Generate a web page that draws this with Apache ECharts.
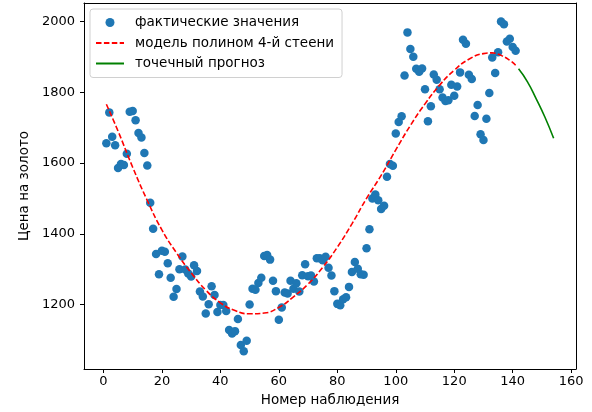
<!DOCTYPE html>
<html>
<head>
<meta charset="utf-8">
<script src="https://cdn.jsdelivr.net/npm/echarts@6/dist/echarts.min.js"></script>
<style>
    html, body { margin: 0; padding: 0; background: #fff; }
    #chart { width: 592px; height: 412px; }
</style>
</head>
<body>
<div id="chart"></div>
<script>
// фактические значения (номер наблюдения 1..141)
var actual = [
    1656, 1743, 1674, 1650, 1586, 1597, 1594, 1626, 1745, 1747, 1721, 1685,
    1672, 1628, 1593, 1488, 1414, 1343, 1286, 1352, 1349, 1317, 1276, 1222,
    1244, 1300, 1336, 1299, 1288, 1279, 1311, 1295, 1237, 1223, 1175, 1201,
    1252, 1227, 1179, 1199, 1199, 1182, 1128, 1118, 1125, 1159, 1086, 1068,
    1098, 1200, 1245, 1242, 1261, 1276, 1337, 1340, 1327, 1267, 1238, 1157,
    1192, 1234, 1231, 1267, 1245, 1260, 1237, 1283, 1314, 1280, 1282, 1265,
    1331, 1331, 1325, 1335, 1304, 1282, 1238, 1202, 1198, 1215, 1221, 1250,
    1292, 1320, 1301, 1286, 1284, 1359, 1413, 1500, 1511, 1495, 1470, 1479,
    1561, 1597, 1592, 1683, 1716, 1732, 1847, 1969, 1922, 1900, 1866, 1858,
    1867, 1808, 1718, 1760, 1850, 1835, 1808, 1785, 1775, 1777, 1821, 1790,
    1816, 1856, 1948, 1937, 1849, 1837, 1733, 1764, 1681, 1665, 1725, 1798,
    1898, 1854, 1913, 2000, 1992, 1943, 1951, 1928, 1917
];

// модель полином 4-й степени
var modelX = [1, 5, 10, 15, 20, 25, 30, 35, 40, 45, 50, 55, 60, 65, 70, 75, 80, 85, 90, 95, 100, 105, 110, 115, 120, 125, 130, 133, 136, 139, 141];
var modelY = [1766, 1690, 1588, 1494, 1411, 1346, 1290, 1241, 1205, 1183, 1174, 1176, 1192, 1222, 1258, 1305, 1362, 1428, 1500, 1565, 1637, 1706, 1767, 1820, 1862, 1893, 1909, 1911, 1904, 1890, 1876];

// точечный прогноз
var forecastX = [142, 145, 148, 151, 154];
var forecastY = [1866, 1830, 1782, 1730, 1670];

var xTicks = [0, 20, 40, 60, 80, 100, 120, 140, 160];
var yTicks = [1200, 1400, 1600, 1800, 2000];

var font = 'DejaVu Sans';
var xMin = -6.65, xMax = 161.65;
var yMin = 1018, yMax = 2052;

function pairs(xs, ys) {
    return xs.map(function (x, i) { return [x, ys[i]]; });
}

function plain(v) { return String(v); }

var chart = echarts.init(document.getElementById('chart'));

// рамка: оси сверху и справа без подписей
var frameX = {
    type: 'value', position: 'top', min: xMin, max: xMax,
    axisLine: { show: true, onZero: false, lineStyle: { color: '#000' } },
    axisTick: { show: false }, axisLabel: { show: false }, splitLine: { show: false }
};
var frameY = {
    type: 'value', position: 'right', min: yMin, max: yMax,
    axisLine: { show: true, onZero: false, lineStyle: { color: '#000' } },
    axisTick: { show: false }, axisLabel: { show: false }, splitLine: { show: false }
};

var option = {
    animation: false,
    grid: {
        left: 84,
        right: 16,
        top: 3,
        bottom: 43
    },
    legend: {
        orient: 'vertical',
        left: 90,
        top: 9,
        padding: [6.5, 8, 7, 5],
        itemWidth: 28,
        itemHeight: 9,
        itemGap: 6.5,
        borderColor: '#d0d0d0',
        borderWidth: 1,
        borderRadius: 3,
        backgroundColor: 'rgba(255,255,255,0.85)',
        formatter: function (name) { return '{t|' + name + '}'; },
        textStyle: {
            fontFamily: font, fontSize: 13.5, color: '#000',
            rich: { t: { fontFamily: font, fontSize: 13.5, color: '#000', padding: [0, 0, 0, 6] } }
        },
        data: [
            { name: 'фактические значения' },
            { name: 'модель полином 4-й стеени', itemStyle: { opacity: 0 } },
            { name: 'точечный прогноз', itemStyle: { opacity: 0 } }
        ]
    },
    xAxis: [{
        type: 'value',
        min: xMin,
        max: xMax,
        name: 'Номер наблюдения',
        nameLocation: 'middle',
        nameGap: 24,
        nameTextStyle: { fontFamily: font, fontSize: 13.5, color: '#000' },
        axisLine: { show: true, onZero: false, lineStyle: { color: '#000' } },
        axisTick: { show: true, length: 4, customValues: xTicks, lineStyle: { color: '#000' } },
        axisLabel: { customValues: xTicks, formatter: plain, margin: 6, fontFamily: font, fontSize: 13, color: '#000' },
        splitLine: { show: false }
    }, frameX],
    yAxis: [{
        type: 'value',
        min: yMin,
        max: yMax,
        name: 'Цена на золото',
        nameLocation: 'middle',
        nameGap: 41,
        nameTextStyle: { fontFamily: font, fontSize: 13.5, color: '#000' },
        axisLine: { show: true, onZero: false, lineStyle: { color: '#000' } },
        axisTick: { show: true, length: 4, customValues: yTicks, lineStyle: { color: '#000' } },
        axisLabel: { customValues: yTicks, formatter: plain, margin: 9, fontFamily: font, fontSize: 13, color: '#000' },
        splitLine: { show: false }
    }, frameY],
    series: [
        {
            name: 'фактические значения',
            type: 'scatter',
            symbol: 'circle',
            symbolSize: 8.5,
            itemStyle: { color: '#1f77b4', opacity: 1 },
            data: actual.map(function (v, i) { return [i + 1, v]; }),
            z: 2
        },
        {
            name: 'модель полином 4-й стеени',
            type: 'line',
            smooth: true,
            symbol: 'none',
            lineStyle: { color: '#ff0000', width: 1.6, type: [5.5, 2.4] },
            itemStyle: { color: '#ff0000' },
            data: pairs(modelX, modelY),
            z: 3
        },
        {
            name: 'точечный прогноз',
            type: 'line',
            smooth: true,
            symbol: 'none',
            lineStyle: { color: '#008000', width: 1.6 },
            itemStyle: { color: '#008000' },
            data: pairs(forecastX, forecastY),
            z: 3
        }
    ]
};

chart.setOption(option);
</script>
</body>
</html>
